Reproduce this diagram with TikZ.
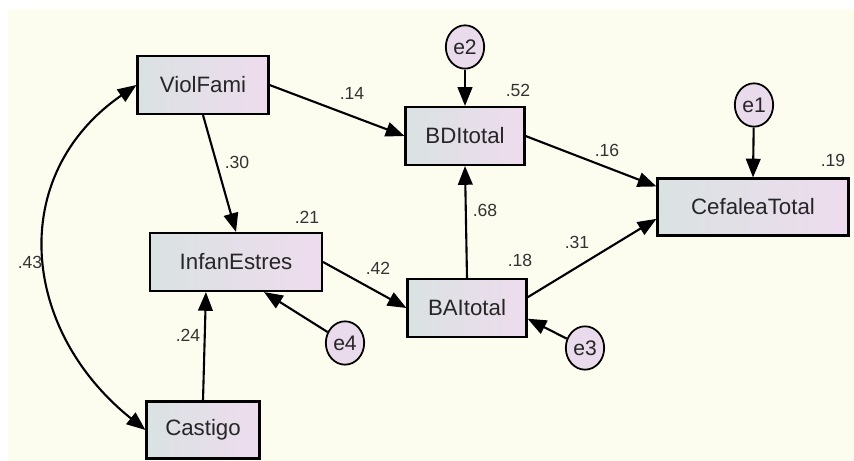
\documentclass[tikz,border=0pt]{standalone}
\usepackage{fontspec}
\setmainfont{Liberation Sans}
\usetikzlibrary{arrows.meta,shapes.geometric}

\definecolor{paper}{HTML}{FDFDEF}
\definecolor{boxleft}{HTML}{DAE2E2}
\definecolor{boxright}{HTML}{EEDCEE}
\definecolor{errfill}{HTML}{E9DBEB}

\tikzset{
    obsvar/.style={draw, line width=1.8pt, rectangle, left color=boxleft, right color=boxright,
        inner sep=0pt, font=\fontsize{19}{19}\selectfont, text=black!85},
    errvar/.style={draw, line width=1.5pt, ellipse, fill=errfill, minimum width=1.15cm,
        minimum height=1.3cm, inner sep=0pt, font=\fontsize{18}{18}\selectfont, text=black!85},
    coef/.style={font=\fontsize{15}{15}\selectfont, text=black!80},
    path/.style={line width=1.8pt, -{Triangle[length=16pt, width=12.5pt]}},
    corr/.style={line width=1.8pt, {Triangle[length=16pt, width=12.5pt]}-{Triangle[length=16pt, width=12.5pt]}}
}

\begin{document}
\begin{tikzpicture}[x=0.03cm, y=-0.03cm]
    % Page and background
    \useasboundingbox (0,0) rectangle (854,461);
    \fill[white] (0,0) rectangle (854,461);
    \fill[paper] (8,9) rectangle (854,461);

    % Observed variables
    \node[obsvar, minimum width=131*0.03cm, minimum height=58*0.03cm] (vf) at (203,85) {ViolFami};
    \node[obsvar, minimum width=172*0.03cm, minimum height=58*0.03cm] (ie) at (236,262) {InfanEstres};
    \node[obsvar, minimum width=113*0.03cm, minimum height=57*0.03cm] (cas) at (203,430) {Castigo};
    \node[obsvar, minimum width=119*0.03cm, minimum height=58*0.03cm] (bdi) at (465,136) {BDItotal};
    \node[obsvar, minimum width=119*0.03cm, minimum height=58*0.03cm] (bai) at (467,308) {BAItotal};
    \node[obsvar, minimum width=191*0.03cm, minimum height=57*0.03cm] (cef) at (753,207) {CefaleaTotal};

    % Error terms
    \node[errvar] (e1) at (754,105) {e1};
    \node[errvar] (e2) at (465,47) {e2};
    \node[errvar] (e3) at (585,348) {e3};
    \node[errvar] (e4) at (345,343) {e4};

    % Regression paths
    \draw[path] (vf.east) -- (bdi.west);
    \draw[path] (vf.south) -- (ie.north);
    \draw[path] (cas.north) -- (ie.225);
    \draw[path] (ie.east) -- (bai.west);
    \draw[path] (bai.north) -- (bdi.south);
    \draw[path] (bdi.east) -- (cef.168);
    \draw[path] (bai.10) -- (cef.187);

    % Error paths
    \draw[path] (e1) -- (cef.north);
    \draw[path] (e2) -- (bdi.north);
    \draw[path] (e3) -- (bai.-10);
    \draw[path] (e4) -- (ie.313);

    % Covariance
    \draw[corr] (vf.west) .. controls +(-130,90) and +(-125,-100) .. (cas.west);

    % Estimates
    \node[coef] (c43) at (30,262) {.43};
    \node[coef] (c14) at (352,93) {.14};
    \node[coef] (c30) at (237,162) {.30};
    \node[coef] (c21) at (307,217) {.21};
    \node[coef] (c24) at (188,335) {.24};
    \node[coef] (c42) at (378,268) {.42};
    \node[coef] (c52) at (518,90) {.52};
    \node[coef] (c68) at (485,210) {.68};
    \node[coef] (c18) at (520,260) {.18};
    \node[coef] (c16) at (607,150) {.16};
    \node[coef] (c31) at (577,242) {.31};
    \node[coef] (c19) at (833,160) {.19};

\end{tikzpicture}
\end{document}
